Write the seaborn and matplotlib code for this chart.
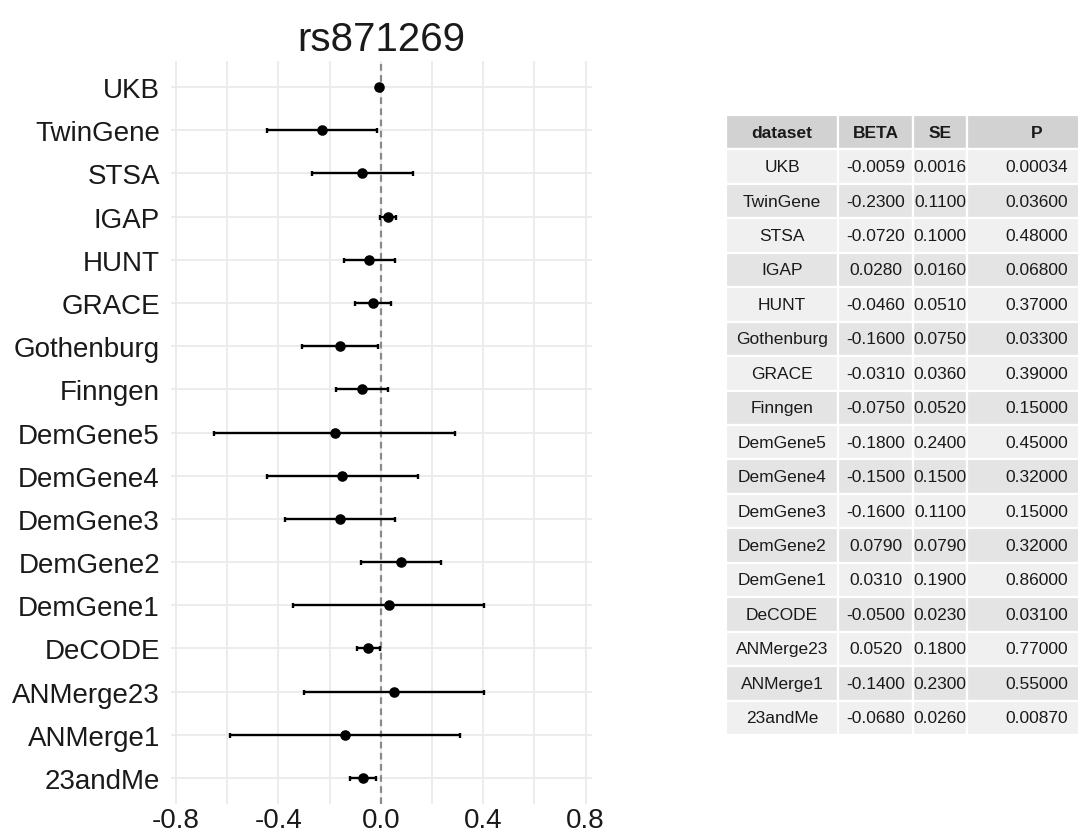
import pandas as pd
import numpy as np
import matplotlib
matplotlib.use("Agg")
import matplotlib.pyplot as plt
import seaborn as sns

# table order, as in the reference table
datasets = ["UKB", "TwinGene", "STSA", "IGAP", "HUNT", "Gothenburg", "GRACE", "Finngen",
            "DemGene5", "DemGene4", "DemGene3", "DemGene2", "DemGene1", "DeCODE",
            "ANMerge23", "ANMerge1", "23andMe"]
beta = [-0.0059, -0.2300, -0.0720, 0.0280, -0.0460, -0.1600, -0.0310, -0.0750,
        -0.1800, -0.1500, -0.1600, 0.0790, 0.0310, -0.0500, 0.0520, -0.1400, -0.0680]
se = [0.0016, 0.1100, 0.1000, 0.0160, 0.0510, 0.0750, 0.0360, 0.0520,
      0.2400, 0.1500, 0.1100, 0.0790, 0.1900, 0.0230, 0.1800, 0.2300, 0.0260]
pval = [0.00034, 0.03600, 0.48000, 0.06800, 0.37000, 0.03300, 0.39000, 0.15000,
        0.45000, 0.32000, 0.15000, 0.32000, 0.86000, 0.03100, 0.77000, 0.55000, 0.00870]
snp = "rs871269"
x_ticks = [-0.8, -0.4, 0.0, 0.4, 0.8]

df = pd.DataFrame({"dataset": datasets, "BETA": beta, "SE": se, "P": pval})

# plot order: case-insensitive alphabetical, first one at the bottom
plot_df = df.sort_values("dataset", key=lambda s: s.str.lower()).reset_index(drop=True)
plot_df["ypos"] = np.arange(len(plot_df))

sns.set_theme(style="whitegrid")
plt.rcParams["font.family"] = ["Liberation Sans", "DejaVu Sans"]

W, H = 1078, 837
fig = plt.figure(figsize=(W / 100, H / 100), dpi=100)

# forest plot panel (95% CI = BETA +/- 1.96 SE)
ax = fig.add_axes([171 / W, 1 - 805 / H, 421 / W, 743 / H])
ax.errorbar(plot_df["BETA"], plot_df["ypos"], xerr=1.96 * plot_df["SE"], fmt="none",
            ecolor="black", elinewidth=1.7, capsize=1.8, capthick=1.7, zorder=3)
sns.scatterplot(data=plot_df, x="BETA", y="ypos", color="black", s=58,
                linewidth=0, zorder=4, ax=ax)
ax.axvline(0, color="#8a8a8a", linestyle=(0, (3, 2)), linewidth=1.6, zorder=2)

ax.set_xlim(-0.82, 0.825)
ax.set_ylim(-0.6, len(plot_df) - 0.4)
ax.set_xticks(x_ticks)
ax.set_xticklabels([f"{t:.1f}" for t in x_ticks])
ax.set_xticks([-0.6, -0.2, 0.2, 0.6], minor=True)
ax.set_yticks(plot_df["ypos"])
ax.set_yticklabels(plot_df["dataset"])
ax.grid(True, which="both", color="#ebebeb", linewidth=1.3)
ax.set_axisbelow(True)
for s in ax.spines.values():
    s.set_visible(False)
ax.tick_params(axis="y", length=0, pad=8, labelsize=20, labelcolor="#1a1a1a")
ax.tick_params(axis="x", which="both", length=0, pad=2, labelsize=20, labelcolor="#1a1a1a")
ax.set_xlabel("")
ax.set_ylabel("")
ax.set_facecolor("white")
ax.set_title(snp, fontsize=29, pad=8, color="#1a1a1a")

# table panel
tax = fig.add_axes([726 / W, 1 - 736 / H, 380 / W, 620 / H])
tax.axis("off")
cells = [[d, f"{b:.4f}", f"{s:.4f}", f"{p:.5f}"] for d, b, s, p in zip(datasets, beta, se, pval)]
colours = [["#f0f0f0" if i % 2 == 0 else "#e4e4e4"] * 4 for i in range(len(cells))]
tbl = tax.table(cellText=cells, colLabels=["dataset", "BETA", "SE", "P"],
                cellColours=colours, colColours=["#d2d2d2"] * 4,
                cellLoc="center", bbox=[0, 0, 1, 1],
                colWidths=[112, 75, 54, 139])
tbl.auto_set_font_size(False)
for (r, c), cell in tbl.get_celld().items():
    cell.set_edgecolor("white")
    cell.set_linewidth(1.6)
    cell.get_text().set_fontsize(12.5)
    cell.get_text().set_color("#1a1a1a")
    if r == 0:
        cell.get_text().set_fontweight("bold")

fig.savefig("out.png", dpi=100, facecolor="white")
